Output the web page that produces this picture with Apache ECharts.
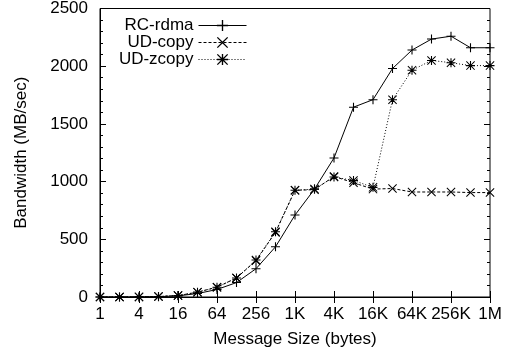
<!DOCTYPE html>
<html>
<head>
<meta charset="utf-8">
<script src="https://cdn.jsdelivr.net/npm/echarts@6/dist/echarts.min.js"></script>
<style>
  html, body { margin: 0; padding: 0; background: #fff; }
  #chart { width: 513px; height: 353px; }
</style>
</head>
<body>
<div id="chart"></div>
<script>
// message sizes, 2^0 .. 2^20 bytes
const sizes = ['1', '2', '4', '8', '16', '32', '64', '128', '256', '512',
  '1K', '2K', '4K', '8K', '16K', '32K', '64K', '128K', '256K', '512K', '1M'];

// bandwidth in MB/sec
const rcRdma = [0, 0, 1, 3, 10, 30, 65, 125, 245, 435,
  710, 935, 1205, 1645, 1710, 1980, 2140, 2235, 2260, 2160, 2160];
const udCopy = [0, 0, 1, 4, 12, 42, 85, 165, 315, 560,
  925, 930, 1045, 990, 935, 940, 910, 910, 910, 905, 905];
const udZcopy = [0, 0, 1, 4, 12, 42, 85, 165, 320, 565,
  925, 935, 1040, 1010, 950, 1710, 1965, 2050, 2030, 2005, 2005];

const FONT = 'Liberation Sans';
const FS = 17;

// gnuplot-like point shapes
const plus = 'path://M44,0H56V44H100V56H56V100H44V56H0V44H44Z';
const cross = 'path://M0,8L8,0L50,42L92,0L100,8L58,50L100,92L92,100L50,58L8,100L0,92L42,50Z';
const star = plus + ' ' + cross.replace('path://', '');

function lineSeries(name, data, symbol, dash) {
  return {
    name: name,
    type: 'line',
    data: data,
    symbol: symbol,
    symbolSize: 9,
    showAllSymbol: true,
    animation: false,
    itemStyle: { color: '#000' },
    lineStyle: { color: '#000', width: 1, type: dash }
  };
}

const chart = echarts.init(document.getElementById('chart'));

const tickStyle = { show: true, inside: true, length: 6, interval: 1, lineStyle: { color: '#000' } };

chart.setOption({
  backgroundColor: '#fff',
  textStyle: { fontFamily: FONT },
  grid: {
    left: 100, right: 23, top: 8, bottom: 56,
    show: true, borderColor: '#000', borderWidth: 1
  },
  legend: {
    orient: 'vertical',
    right: 261,
    top: 12,
    align: 'right',
    itemWidth: 48,
    itemHeight: 14,
    itemGap: 0,
    lineStyle: { width: 1 },
    textStyle: { fontSize: FS, lineHeight: 14, color: '#000', fontFamily: FONT },
    data: ['RC-rdma', 'UD-copy', 'UD-zcopy']
  },
  xAxis: [{
    type: 'category',
    data: sizes,
    boundaryGap: false,
    name: 'Message Size (bytes)',
    nameLocation: 'middle',
    nameGap: 34,
    nameTextStyle: { fontSize: FS, color: '#000', fontFamily: FONT },
    axisLine: { lineStyle: { color: '#000' } },
    axisTick: tickStyle,
    axisLabel: { interval: 1, fontSize: FS, color: '#000', margin: 9, fontFamily: FONT },
    splitLine: { show: false }
  }, {
    type: 'category',
    data: sizes,
    boundaryGap: false,
    position: 'top',
    axisLine: { show: false },
    axisTick: tickStyle,
    axisLabel: { show: false },
    splitLine: { show: false }
  }],
  yAxis: [{
    type: 'value',
    min: 0, max: 2500, interval: 500,
    name: 'Bandwidth (MB/sec)',
    nameLocation: 'middle',
    nameGap: 70,
    nameTextStyle: { fontSize: FS, color: '#000', fontFamily: FONT },
    axisLine: { show: true, lineStyle: { color: '#000' } },
    axisTick: { show: true, inside: true, length: 6, lineStyle: { color: '#000' } },
    minorTick: { show: true, splitNumber: 5, length: 3, lineStyle: { color: '#000' } },
    axisLabel: { fontSize: FS, color: '#000', margin: 12, fontFamily: FONT, formatter: v => String(v) },
    splitLine: { show: false }
  }, {
    type: 'value',
    min: 0, max: 2500, interval: 500,
    position: 'right',
    axisLine: { show: false },
    axisTick: { show: true, inside: true, length: 6, lineStyle: { color: '#000' } },
    minorTick: { show: true, splitNumber: 5, length: 3, lineStyle: { color: '#000' } },
    axisLabel: { show: false },
    splitLine: { show: false }
  }],
  series: [
    lineSeries('RC-rdma', rcRdma, plus, 'solid'),
    lineSeries('UD-copy', udCopy, cross, [3, 2]),
    lineSeries('UD-zcopy', udZcopy, star, [1, 2])
  ]
});

window.addEventListener('resize', () => {
  chart.resize();
});
</script>
</body>
</html>
